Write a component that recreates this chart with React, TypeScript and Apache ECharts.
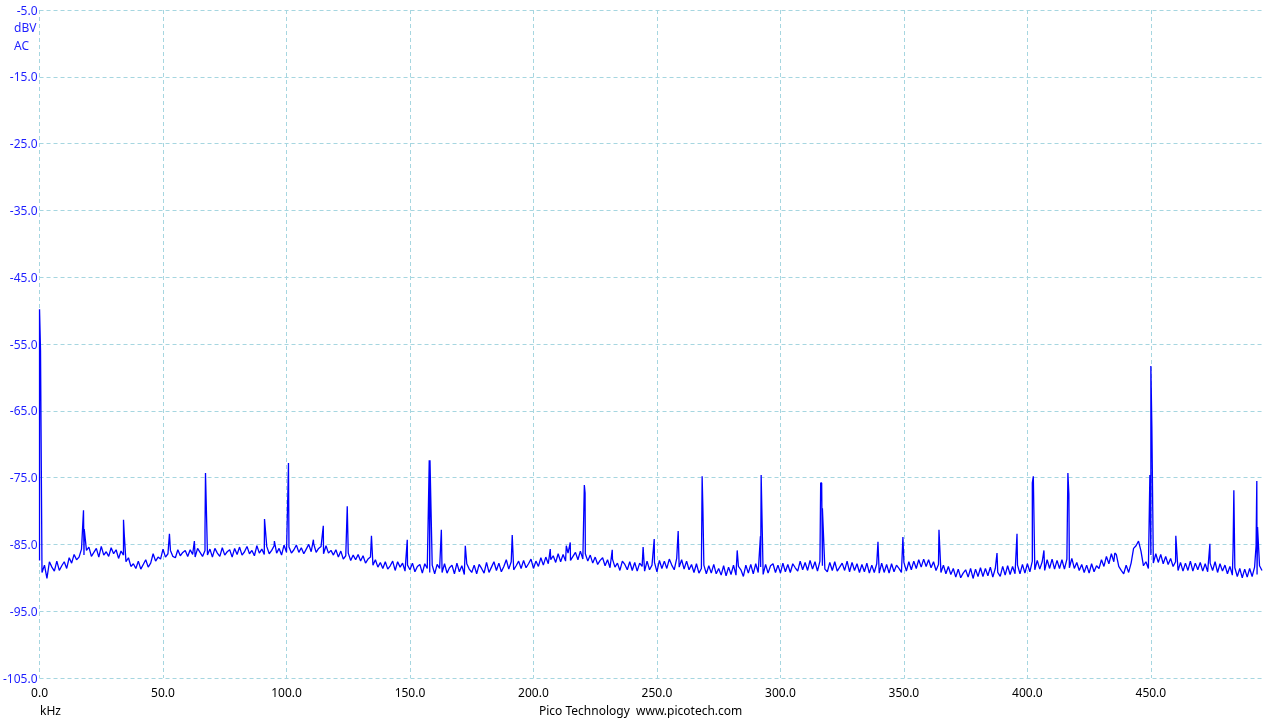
import React, { useEffect, useRef } from "react";
import * as echarts from "echarts";

// Frequency axis (kHz) and level axis (dBV)
const X_MIN = 0;
const X_MAX = 495;
const X_STEP = 50;
const Y_MIN = -105;
const Y_MAX = -5;
const Y_STEP = 10;

// Noise floor, one value per kHz starting at 0 kHz (dBV)
const NOISE_STEP_KHZ = 1;
const NOISE_DBV = [
  -87.4, -89.2, -88.1, -90.1, -87.6, -88.4, -89.0, -87.5, -88.9, -88.2,
  -87.6, -88.6, -87.0, -87.8, -86.5, -87.3, -86.9, -85.7, -86.6, -85.9,
  -85.4, -86.8, -86.2, -85.6, -86.9, -85.3, -86.6, -86.1, -86.8, -85.5,
  -86.4, -85.8, -87.1, -86.0, -86.6, -87.6, -87.0, -88.3, -87.9, -88.6,
  -87.5, -88.7, -88.0, -87.3, -88.4, -87.8, -86.4, -87.5, -86.9, -87.2,
  -85.7, -86.9, -86.4, -85.9, -86.8, -87.0, -85.8, -86.7, -86.2, -85.9,
  -86.8, -85.8, -86.5, -86.9, -85.6, -86.2, -86.8, -85.9, -86.6, -85.7,
  -86.9, -85.6, -86.3, -86.8, -85.5, -86.6, -86.1, -85.8, -86.9, -85.6,
  -86.5, -85.4, -86.6, -86.1, -85.3, -86.4, -85.9, -86.7, -85.2, -86.3,
  -85.7, -86.5, -85.3, -86.4, -85.9, -85.2, -86.3, -85.6, -86.6, -85.1,
  -86.2, -85.4, -86.3, -85.8, -85.1, -86.2, -85.5, -86.4, -85.7, -85.0,
  -86.1, -84.9, -86.2, -85.6, -85.3, -86.4, -85.2, -86.3, -85.9, -86.6,
  -85.8, -86.9, -86.0, -87.2, -86.7, -86.3, -87.4, -86.6, -87.3, -86.5,
  -87.5, -86.7, -87.8, -87.2, -86.9, -88.1, -87.3, -88.4, -87.7, -88.6,
  -87.6, -88.7, -88.2, -87.5, -88.9, -87.6, -88.4, -87.8, -89.0, -88.1,
  -88.8, -87.8, -89.1, -88.3, -88.0, -89.3, -87.9, -88.6, -89.2, -88.1,
  -89.4, -88.0, -88.6, -89.2, -87.9, -89.3, -88.5, -88.1, -89.4, -87.8,
  -89.1, -88.2, -89.5, -87.9, -88.7, -89.2, -88.1, -89.4, -88.0, -88.6,
  -89.3, -87.7, -89.2, -88.4, -87.6, -88.9, -87.8, -89.1, -88.3, -87.3,
  -88.7, -87.6, -88.8, -88.2, -87.5, -88.6, -87.4, -88.5, -87.9, -87.2,
  -88.6, -87.5, -88.3, -87.0, -88.1, -86.9, -87.9, -87.3, -86.7, -87.7,
  -86.4, -87.6, -86.5, -87.5, -86.3, -87.4, -86.8, -86.2, -87.3, -86.0,
  -87.2, -86.4, -87.5, -86.6, -87.8, -86.9, -88.0, -87.4, -87.0, -88.2,
  -87.3, -88.5, -87.2, -88.4, -87.8, -88.9, -87.5, -88.0, -88.8, -87.6,
  -88.9, -87.7, -89.0, -87.8, -88.3, -89.0, -87.5, -88.8, -88.1, -87.7,
  -89.1, -87.4, -88.6, -87.5, -88.6, -87.2, -88.1, -88.8, -87.1, -88.4,
  -87.3, -88.7, -87.5, -88.8, -88.0, -89.2, -87.9, -89.3, -88.6, -88.1,
  -89.4, -88.2, -89.3, -88.0, -89.4, -88.6, -89.6, -88.2, -89.7, -88.4,
  -89.5, -88.1, -89.6, -88.3, -88.8, -89.8, -88.1, -89.3, -88.0, -89.4,
  -87.9, -89.2, -88.4, -89.5, -88.0, -89.3, -88.2, -87.9, -89.2, -88.1,
  -89.3, -87.8, -89.1, -88.0, -89.2, -87.9, -88.5, -89.0, -87.5, -88.8,
  -87.7, -88.9, -87.4, -88.7, -87.6, -89.0, -87.5, -88.2, -88.7, -89.1,
  -87.7, -88.9, -87.6, -89.0, -88.4, -87.8, -88.9, -87.5, -89.1, -87.7,
  -88.9, -87.9, -89.2, -88.0, -89.1, -87.8, -89.3, -88.1, -89.2, -87.9,
  -89.3, -87.8, -89.2, -88.0, -89.3, -87.9, -89.1, -88.1, -88.6, -89.2,
  -87.7, -89.0, -87.6, -88.8, -87.5, -88.6, -87.3, -88.4, -87.2, -88.3,
  -87.3, -88.5, -87.6, -88.9, -88.0, -89.2, -88.1, -89.4, -88.3, -89.5,
  -88.6, -89.9, -88.7, -90.0, -89.3, -88.8, -89.9, -88.6, -90.1, -88.7,
  -89.8, -88.5, -89.8, -88.6, -89.7, -88.4, -89.9, -88.6, -89.2, -89.8,
  -88.3, -89.6, -88.2, -89.5, -88.3, -89.4, -88.1, -89.4, -88.0, -89.3,
  -87.9, -89.1, -87.5, -88.8, -87.4, -88.7, -87.6, -88.9, -87.3, -88.6,
  -87.2, -88.7, -87.4, -88.6, -87.3, -88.7, -87.2, -88.5, -87.1, -88.6,
  -87.7, -88.9, -88.0, -89.2, -88.1, -89.3, -87.9, -89.1, -88.2, -88.6,
  -87.3, -88.3, -86.8, -87.9, -86.4, -87.6, -86.5, -88.3, -88.9, -89.4,
  -88.1, -89.2, -87.8, -85.6, -85.2, -84.5, -86.0, -88.2, -87.6, -88.6,
  -86.6, -87.8, -86.4, -87.7, -86.5, -87.9, -86.8, -88.0, -87.1, -88.3,
  -87.6, -88.9, -87.7, -89.0, -87.8, -88.9, -87.5, -89.0, -87.8, -88.8,
  -87.7, -89.0, -87.9, -89.1, -87.8, -88.9, -87.6, -89.2, -87.9, -89.0,
  -88.1, -89.4, -88.3, -89.6, -88.5, -89.8, -88.6, -90.0, -88.7, -89.9,
  -88.6, -89.8, -88.4, -89.5, -88.2, -88.9,
];

// Spectral lines: frequency (kHz) and level (dBV)
const PEAK_KHZ = [
  0.0, 0.4, 17.8, 18.1, 34.0, 34.3, 52.6, 62.7, 67.0, 67.2, 91.1, 95.1,
  100.6, 100.8, 110.9, 114.9, 124.6, 134.4, 148.9, 157.8, 158.1, 162.7,
  172.4, 191.4, 206.8, 213.3, 214.9, 220.6, 220.9, 231.9, 244.4, 248.9,
  258.6, 268.3, 268.6, 282.5, 291.9, 292.2, 316.3, 316.7, 317.0, 339.5,
  349.6, 364.2, 387.7, 395.8, 402.0, 402.4, 406.7, 416.4, 416.8, 435.4,
  449.6, 450.0, 450.4, 460.1, 473.9, 483.3, 483.6, 492.6, 492.9, 493.2,
];
const PEAK_DBV = [
  -49.8, -56.0, -79.9, -82.7, -81.3, -83.5, -83.4, -84.5, -83.0, -74.3, -81.2, -84.5,
  -76.5, -72.8, -84.3, -82.2, -79.3, -83.7, -84.3, -72.4, -72.4, -82.8,
  -85.2, -83.6, -85.7, -85.2, -84.7, -76.1, -77.3, -85.8, -85.4, -84.2,
  -83.0, -74.8, -79.5, -85.9, -83.8, -74.6, -75.8, -75.8, -79.6, -84.6,
  -83.9, -82.8, -86.3, -83.4, -75.8, -74.8, -85.9, -74.3, -77.5, -86.3,
  -74.6, -58.3, -67.4, -83.7, -84.9, -85.5, -76.9, -85.2, -75.5, -82.4,
];

const Y_LABEL_COLOR = "#1f1fff";
const TRACE_COLOR = "#0000ff";
const GRID_COLOR = "#a6d6e0";
const FONT = "'Noto Sans', 'Open Sans', sans-serif";

export default function App() {
  const ref = useRef<HTMLDivElement>(null);

  useEffect(() => {
    if (!ref.current) return;
    const chart = echarts.init(ref.current, undefined, { renderer: "svg" });

    const base = NOISE_DBV.map((v, i) => [i * NOISE_STEP_KHZ, v]);
    const peaks = PEAK_KHZ.map((f, i) => [f, PEAK_DBV[i]]);
    const data = base.concat(peaks).sort((a, b) => a[0] - b[0]);

    chart.setOption({
      animation: false,
      grid: { left: 38, top: 10, right: 18, bottom: 42, containLabel: false },
      xAxis: {
        type: "value",
        min: X_MIN,
        max: X_MAX,
        interval: X_STEP,
        axisLine: { show: false },
        axisTick: { show: false },
        axisLabel: {
          color: "#000",
          fontFamily: FONT,
          fontSize: 12,
          margin: 8,
          showMaxLabel: false,
          formatter: (v: number) => (v % X_STEP === 0 ? v.toFixed(1) : ""),
        },
        splitLine: {
          show: true,
          showMaxLine: false,
          lineStyle: { color: GRID_COLOR, width: 1, type: [4, 3] },
        },
      },
      yAxis: {
        type: "value",
        min: Y_MIN,
        max: Y_MAX,
        interval: Y_STEP,
        axisLine: { show: false },
        axisTick: { show: false },
        axisLabel: {
          color: Y_LABEL_COLOR,
          fontFamily: FONT,
          fontSize: 12,
          margin: 2,
          formatter: (v: number) => v.toFixed(1),
        },
        splitLine: {
          show: true,
          lineStyle: { color: GRID_COLOR, width: 1, type: [4, 3] },
        },
      },
      series: [
        {
          type: "line",
          data,
          showSymbol: false,
          symbol: "none",
          silent: true,
          lineStyle: { color: TRACE_COLOR, width: 1.3 },
        },
      ],
      graphic: [
        {
          type: "text",
          left: 14,
          top: 21,
          style: { text: "dBV", fill: Y_LABEL_COLOR, font: `12px ${FONT}` },
        },
        {
          type: "text",
          left: 14,
          top: 39,
          style: { text: "AC", fill: Y_LABEL_COLOR, font: `12px ${FONT}` },
        },
        {
          type: "text",
          left: 40,
          top: 704,
          style: { text: "kHz", fill: "#000", font: `12px ${FONT}` },
        },
        {
          type: "text",
          left: 539,
          top: 704,
          style: {
            text: "Pico Technology  www.picotech.com",
            fill: "#000",
            font: `12px ${FONT}`,
          },
        },
      ],
    });

    return () => chart.dispose();
  }, []);

  return (
    <div
      ref={ref}
      style={{ position: "fixed", left: 0, top: 0, width: 1280, height: 720 }}
    />
  );
}
